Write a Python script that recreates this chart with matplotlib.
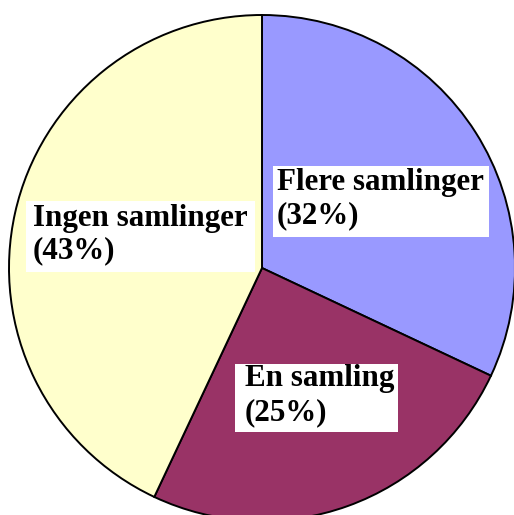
import matplotlib
matplotlib.use('Agg')
import matplotlib.pyplot as plt
import matplotlib.patches as patches

# Slice data (clockwise from 12 o'clock)
categories = ["Flere samlinger", "En samling", "Ingen samlinger"]
shares = [32, 25, 43]
colors = ["#9999ff", "#993366", "#ffffcc"]

W, H = 514, 515
fig = plt.figure(figsize=(W / 100, H / 100), dpi=100, facecolor='white')
ax = fig.add_axes([0, 0, 1, 1])

cx, cy, r = 262, H - 268, 253
ax.pie(shares, colors=colors, startangle=90, counterclock=False,
       center=(cx, cy), radius=r, frame=True,
       wedgeprops=dict(edgecolor='black', linewidth=1.4))
ax.set_xlim(0, W)
ax.set_ylim(0, H)
ax.set_aspect('equal')
ax.axis('off')

# label boxes (x0, y0_top, x1, y1_bottom) in pixel coords, text start, baselines
boxes = {
    "Flere samlinger": ((273, 166, 489, 237), 277, (190, 223)),
    "En samling": ((235, 364, 398, 432), 245, (386, 420)),
    "Ingen samlinger": ((26, 201, 255, 272), 33, (226, 258)),
}
font = dict(family=['Liberation Serif', 'DejaVu Serif'], fontweight='bold', fontsize=22.3, color='black')
for name, val in zip(categories, shares):
    (x0, y0, x1, y1), tx, (b1, b2) = boxes[name]
    ax.add_patch(patches.Rectangle((x0, H - y1), x1 - x0, y1 - y0,
                                   facecolor='white', edgecolor='none', zorder=5))
    ax.text(tx, H - b1, name, ha='left', va='baseline', zorder=6, **font)
    ax.text(tx, H - b2, f"({val}%)", ha='left', va='baseline', zorder=6, **font)

fig.savefig('out.png', dpi=100, facecolor='white')
